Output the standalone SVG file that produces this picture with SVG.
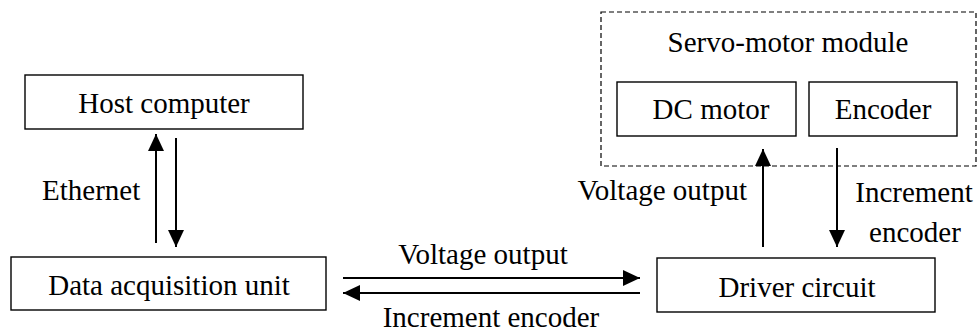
<svg xmlns="http://www.w3.org/2000/svg" width="979" height="333" viewBox="0 0 979 333">
<defs>
<marker id="ah" markerUnits="userSpaceOnUse" markerWidth="18" markerHeight="18" refX="17" refY="8" orient="auto">
<path d="M0,0 L17,8 L0,16 Z" fill="#000"/>
</marker>
</defs>
<rect width="979" height="333" fill="#fff"/>
<g id="servo-module">
<rect x="601" y="12" width="375" height="154" fill="none" stroke="#000" stroke-width="1.2" stroke-dasharray="5,3"/>
<text font-family="Times New Roman, Liberation Serif, serif" font-size="29" text-anchor="middle" x="788" y="52">Servo-motor module</text>
</g>
<g id="host">
<rect x="25" y="75" width="278" height="54" fill="#fff" stroke="#000" stroke-width="1.4"/>
<text font-family="Times New Roman, Liberation Serif, serif" font-size="29" text-anchor="middle" x="164" y="113">Host computer</text>
</g>
<g id="daq">
<rect x="11" y="257" width="315" height="53" fill="#fff" stroke="#000" stroke-width="1.4"/>
<text font-family="Times New Roman, Liberation Serif, serif" font-size="29" text-anchor="middle" x="169" y="295">Data acquisition unit</text>
</g>
<g id="dcmotor">
<rect x="617" y="82" width="179" height="54" fill="#fff" stroke="#000" stroke-width="1.4"/>
<text font-family="Times New Roman, Liberation Serif, serif" font-size="29" text-anchor="middle" x="711" y="119">DC motor</text>
</g>
<g id="encoder">
<rect x="809" y="82" width="148" height="54" fill="#fff" stroke="#000" stroke-width="1.4"/>
<text font-family="Times New Roman, Liberation Serif, serif" font-size="29" text-anchor="middle" x="883" y="119">Encoder</text>
</g>
<g id="driver">
<rect x="657" y="258" width="278" height="54" fill="#fff" stroke="#000" stroke-width="1.4"/>
<text font-family="Times New Roman, Liberation Serif, serif" font-size="29" text-anchor="middle" x="797" y="297">Driver circuit</text>
</g>
<g id="connectors" stroke="#000" stroke-width="2" fill="none">
<line x1="156" y1="243" x2="156" y2="134" marker-end="url(#ah)"/>
<line x1="176" y1="138" x2="176" y2="247" marker-end="url(#ah)"/>
<line x1="343" y1="278" x2="640" y2="278" marker-end="url(#ah)"/>
<line x1="640" y1="293" x2="343" y2="293" marker-end="url(#ah)"/>
<line x1="763" y1="247" x2="763" y2="149" marker-end="url(#ah)"/>
<line x1="837" y1="148" x2="837" y2="247" marker-end="url(#ah)"/>
</g>
<g id="labels" fill="#000">
<text font-family="Times New Roman, Liberation Serif, serif" font-size="29" x="42" y="200">Ethernet</text>
<text font-family="Times New Roman, Liberation Serif, serif" font-size="29" text-anchor="middle" x="483" y="264">Voltage output</text>
<text font-family="Times New Roman, Liberation Serif, serif" font-size="29" text-anchor="middle" x="491" y="327">Increment encoder</text>
<text font-family="Times New Roman, Liberation Serif, serif" font-size="29" text-anchor="end" x="747" y="200">Voltage output</text>
<text font-family="Times New Roman, Liberation Serif, serif" font-size="29" text-anchor="middle" x="914" y="202">Increment</text>
<text font-family="Times New Roman, Liberation Serif, serif" font-size="29" text-anchor="middle" x="915" y="242">encoder</text>
</g>
</svg>
